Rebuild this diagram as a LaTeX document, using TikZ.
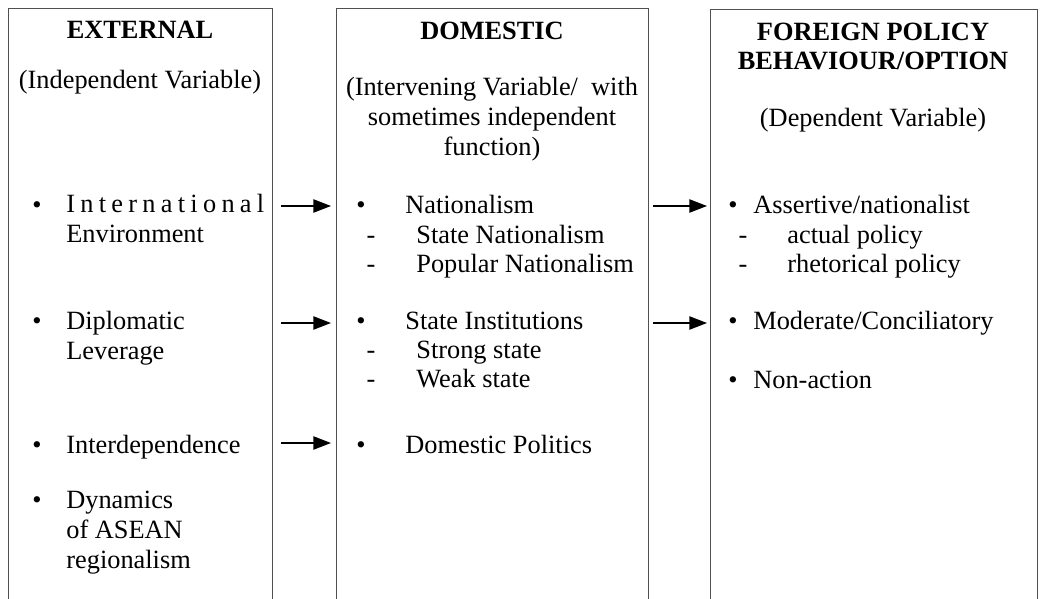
\documentclass[tikz,border=0pt]{standalone}
\usepackage{fontspec}
\setmainfont{Liberation Serif}
\usetikzlibrary{arrows.meta, positioning}
\definecolor{boxline}{HTML}{505050}
\tikzset{
  colbox/.style={draw=boxline, line width=0.8pt, anchor=north west, inner sep=0pt,
                 minimum height=12.3cm},
  head/.style={font=\fontsize{15}{16.8}\selectfont\bfseries, align=center, anchor=base, inner sep=0pt},
  sub/.style={align=center, anchor=base, inner sep=0pt},
  item/.style={align=left, anchor=base west, inner sep=0pt},
  dot/.style={anchor=base, inner sep=0pt},
  arr/.style={-{Triangle[length=10pt,width=7.5pt]}, line width=0.9pt},
}

\begin{document}
\begin{tikzpicture}[x=0.02cm, y=-0.02cm,
    every node/.append style={font=\fontsize{15}{16.8}\selectfont}]
  \useasboundingbox (0,0) rectangle (1040,598);

  % the three columns
  \node[colbox, minimum width=5.28cm] (ext) at (8,8) {};
  \node[colbox, minimum width=6.24cm] (dom) at (336,8) {};
  \node[colbox, minimum width=6.54cm] (fpb) at (710,9) {};

  % headings (multi-line nodes sit on their last line)
  \node[head] (exthead) at (140,39) {EXTERNAL};
  \node[sub] (extsub) at (140,89) {(Independent Variable)};
  \node[head] (domhead) at (492,40) {DOMESTIC};
  \node[sub] (domsub) at (492,155) {(Intervening Variable/\ \ with\\sometimes independent\\function)};
  \node[head] (fpbhead) at (873,70) {FOREIGN POLICY\\BEHAVIOUR/OPTION};
  \node[sub] (fpbsub) at (873,126) {(Dependent Variable)};

  % external factors
  \node[dot] (e1dot) at (37,213) {\textbullet};
  \node[item] (e1) at (66,242) {{\addfontfeature{LetterSpace=20}International}\\Environment};
  \node[dot] (e2dot) at (37,329) {\textbullet};
  \node[item] (e2) at (66,359) {Diplomatic\\Leverage};
  \node[dot] (e3dot) at (37,453) {\textbullet};
  \node[item] (e3) at (66,453) {Interdependence};
  \node[dot] (e4dot) at (37,508) {\textbullet};
  \node[item] (e4) at (66,568) {Dynamics\\of ASEAN\\regionalism};

  % domestic factors
  \node[dot] (d1dot) at (361,213) {\textbullet};
  \node[item] (d1) at (405,213) {Nationalism};
  \node[dot] (d1adash) at (371,243) {-};
  \node[item] (d1a) at (416,243) {State Nationalism};
  \node[dot] (d1bdash) at (371,272) {-};
  \node[item] (d1b) at (416,272) {Popular Nationalism};
  \node[dot] (d2dot) at (361,329) {\textbullet};
  \node[item] (d2) at (405,329) {State Institutions};
  \node[dot] (d2adash) at (371,358) {-};
  \node[item] (d2a) at (416,358) {Strong state};
  \node[dot] (d2bdash) at (371,387) {-};
  \node[item] (d2b) at (416,387) {Weak state};
  \node[dot] (d3dot) at (361,453) {\textbullet};
  \node[item] (d3) at (405,453) {Domestic Politics};

  % policy options
  \node[dot] (p1dot) at (733,213) {\textbullet};
  \node[item] (p1) at (753,213) {Assertive/nationalist};
  \node[dot] (p1adash) at (743,243) {-};
  \node[item] (p1a) at (787,243) {actual policy};
  \node[dot] (p1bdash) at (743,272) {-};
  \node[item] (p1b) at (787,272) {rhetorical policy};
  \node[dot] (p2dot) at (733,329) {\textbullet};
  \node[item] (p2) at (753,329) {Moderate/Conciliatory};
  \node[dot] (p3dot) at (733,388) {\textbullet};
  \node[item] (p3) at (753,388) {Non-action};

  % arrows
  \coordinate (row1) at (0,206);
  \coordinate (row2) at (0,323);
  \coordinate (row3) at (0,443);
  \draw[arr, shorten <=0.16cm, shorten >=0.1cm] (row1 -| ext.east) -- (row1 -| dom.west);
  \draw[arr, shorten <=0.16cm, shorten >=0.1cm] (row2 -| ext.east) -- (row2 -| dom.west);
  \draw[arr, shorten <=0.16cm, shorten >=0.1cm] (row3 -| ext.east) -- (row3 -| dom.west);
  \draw[arr, shorten <=0.08cm, shorten >=0.06cm] (row1 -| dom.east) -- (row1 -| fpb.west);
  \draw[arr, shorten <=0.08cm, shorten >=0.06cm] (row2 -| dom.east) -- (row2 -| fpb.west);
\end{tikzpicture}
\end{document}
